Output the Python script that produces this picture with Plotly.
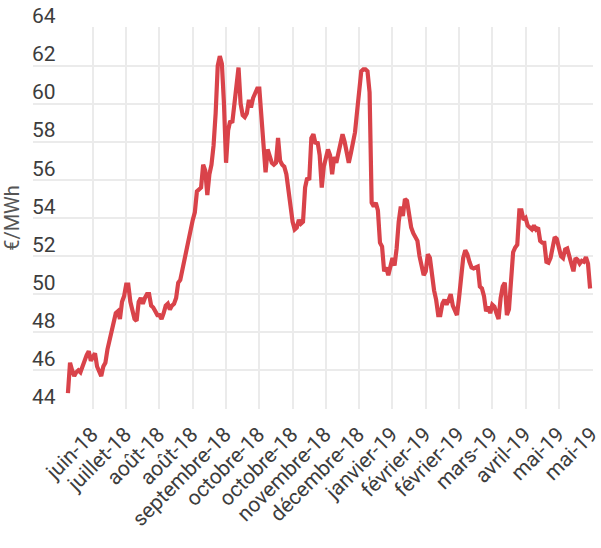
import plotly.graph_objects as go

# Prix (EUR/MWh), une valeur par séance de cotation
prix = [
    44.8, 46.4, 46.0, 45.7, 45.9, 46.0, 45.9, 46.2, 46.6, 46.8,
    47.0, 46.5, 46.7, 46.9, 46.2, 45.9, 45.7, 46.2, 46.4, 47.1,
    47.6, 48.0, 48.7, 49.0, 49.1, 48.7, 49.6, 49.9, 50.5, 50.5,
    49.6, 49.0, 48.7, 48.6, 49.6, 49.8, 49.5, 49.8, 50.0, 50.0,
    49.4, 49.3, 49.1, 48.9, 48.9, 48.7, 49.0, 49.4, 49.5, 49.2,
    49.4, 49.5, 49.8, 50.6, 50.75, 51.3, 51.8, 52.4, 52.9, 53.4,
    53.9, 54.3, 55.4, 55.5, 55.6, 56.8, 56.5, 55.2, 56.3, 56.8,
    57.8, 59.5, 62.0, 62.5, 62.1, 60.0, 56.9, 58.6, 59.1, 59.0,
    60.0, 61.4, 61.9, 60.0, 59.4, 59.3, 59.5, 60.2, 59.8, 60.3,
    60.5, 60.8, 60.8, 59.5, 57.9, 56.4, 57.6, 57.3, 56.9, 56.8,
    56.9, 58.2, 57.0, 56.8, 56.7, 56.3, 55.5, 54.3, 53.8, 53.4,
    53.5, 53.9, 53.7, 53.8, 55.6, 56.1, 56.0, 58.2, 58.4, 57.9,
    58.0, 57.3, 55.6, 56.7, 57.3, 57.6, 57.3, 56.3, 57.2, 56.9,
    57.4, 57.8, 58.4, 58.0, 57.4, 56.9, 57.4, 57.9, 58.5, 59.6,
    60.9, 61.7, 61.8, 61.8, 61.7, 60.6, 54.8, 54.6, 54.8, 54.4,
    52.7, 52.5, 51.2, 51.4, 51.0, 51.5, 51.9, 51.5, 52.4, 53.8,
    54.6, 54.1, 55.0, 54.9, 54.2, 53.5, 53.2, 53.0, 52.8, 52.0,
    51.6, 51.0, 51.2, 52.1, 51.9, 50.9, 50.2, 49.7, 48.9, 48.9,
    49.5, 49.7, 49.45, 49.7, 50.0, 49.4, 49.1, 48.9, 49.8, 51.0,
    51.9, 52.3, 52.1, 51.7, 51.4, 51.35, 51.4, 51.45, 50.4, 50.3,
    49.9, 49.1, 49.35, 49.0, 49.45, 49.35, 49.0, 48.7, 49.8, 50.4,
    50.6, 48.9, 49.2, 51.0, 52.2, 52.45, 52.6, 54.4, 54.4, 53.9,
    54.0, 53.6, 53.5, 53.4, 53.6, 53.4, 53.5, 52.8, 52.7, 52.7,
    51.7, 51.65, 51.9, 52.6, 53.0, 52.9, 52.5, 52.0, 51.9, 52.35,
    52.4, 52.0, 51.6, 51.2, 51.9, 51.8, 51.6, 51.75, 51.7, 51.95,
    51.6, 50.3,
]
seances = list(range(len(prix)))

tick_seances = [12, 28, 44, 60, 76, 92, 108, 124, 140, 156, 172, 188, 204, 220, 236, 252]
tick_labels = [
    "juin-18", "juillet-18", "août-18", "août-18", "septembre-18", "octobre-18",
    "octobre-18", "novembre-18", "décembre-18", "janvier-19", "février-19",
    "février-19", "mars-19", "avril-19", "mai-19", "mai-19",
]
y_ticks = [44, 46, 48, 50, 52, 54, 56, 58, 60, 62, 64]

fig = go.Figure()
fig.add_trace(go.Scatter(
    x=seances, y=prix, mode="lines",
    line=dict(color="#d9434a", width=4.2),
    hoverinfo="y",
))

fig.update_layout(
    width=601, height=548,
    margin=dict(l=33, r=8, t=27, b=139),
    paper_bgcolor="white", plot_bgcolor="white",
    font=dict(family="Roboto, sans-serif", color="#3d3d3d"),
    showlegend=False,
)
fig.update_xaxes(
    range=[-16.8, 252.4], tickmode="array", tickvals=tick_seances, ticktext=tick_labels,
    tickangle=-45, tickfont=dict(size=21, color="#3d3d3d"),
    ticklabelstandoff=8, ticklabelshift=-1, ticklabeloverflow="allow", automargin=False,
    showgrid=True, gridcolor="#ebebeb", gridwidth=2,
    zeroline=False, showline=False, ticks="",
)
fig.update_yaxes(
    range=[43.97, 64.03], tickmode="array", tickvals=y_ticks,
    ticklabelposition="inside top", ticklabeloverflow="allow", automargin=False,
    tickfont=dict(size=21, color="#3d3d3d"), ticklabelstandoff=-4, ticklabelshift=3,
    showgrid=True, gridcolor="#ebebeb", gridwidth=2,
    zeroline=False, showline=False, ticks="",
    title=dict(text="€/MWh", font=dict(size=20, color="#555555"), standoff=16),
)

fig.write_html("out.html")
